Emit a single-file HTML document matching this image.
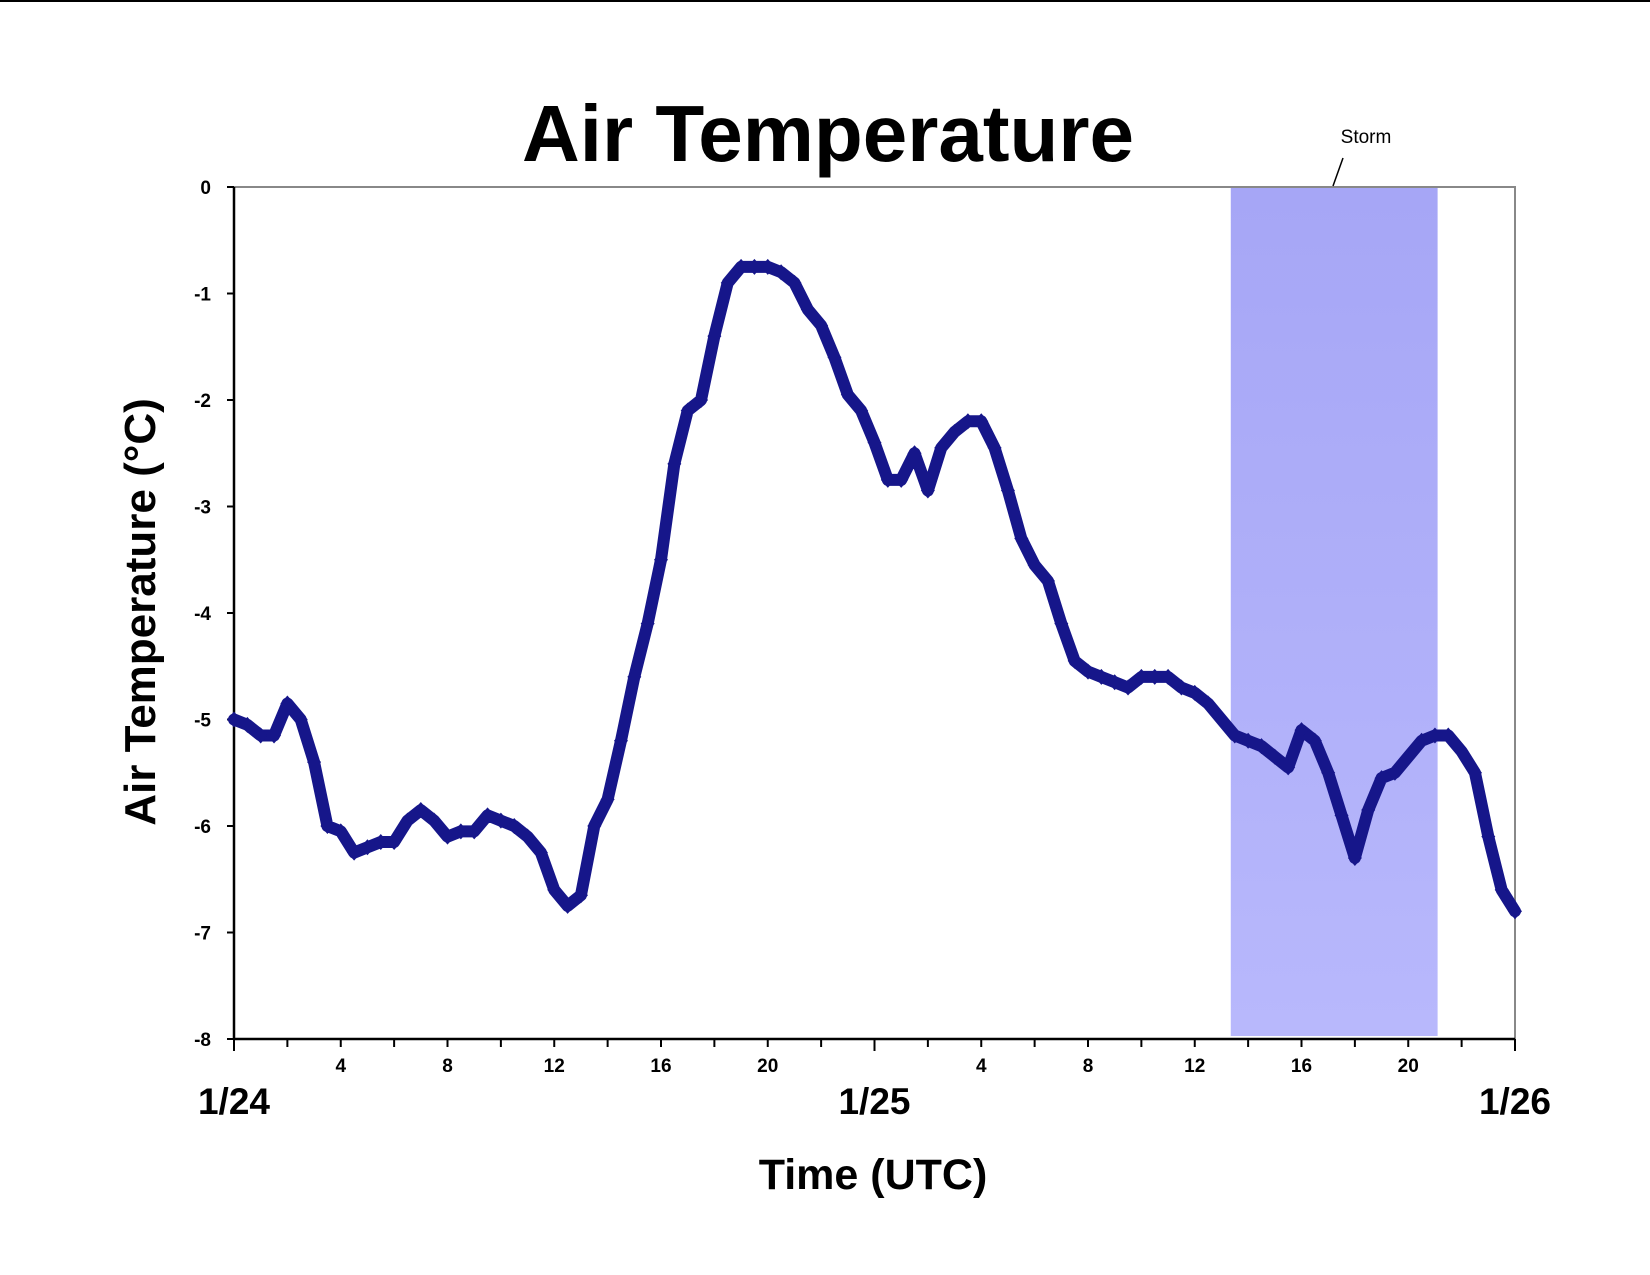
<!DOCTYPE html>
<html><head><meta charset="utf-8"><style>
body{margin:0;background:#fff;}
svg{display:block;font-family:"Liberation Sans",Arial,sans-serif;}
</style></head><body>
<svg id="chart" width="1650" height="1275" viewBox="0 0 1650 1275">
<defs><linearGradient id="storm" x1="0" y1="0" x2="0" y2="1"><stop offset="0" stop-color="#a6a6f6"/><stop offset="1" stop-color="#b8b8fc"/></linearGradient></defs>
<line x1="0" y1="1" x2="1650" y2="1" stroke="#000" stroke-width="2"/>
<text x="828" y="161" font-size="80" font-weight="bold" text-anchor="middle">Air Temperature</text>
<g id="plot"></g>
<text x="1366" y="143" font-size="19" text-anchor="middle">Storm</text>
<line x1="1343" y1="158" x2="1333" y2="186" stroke="#000" stroke-width="1.5"/>
<text transform="translate(155,612) rotate(-90)" font-size="44" font-weight="bold" text-anchor="middle">Air Temperature (°C)</text>
<text x="873" y="1189" font-size="43" font-weight="bold" text-anchor="middle">Time (UTC)</text>
</svg>
<script>
const hours = [0,0.5,1,1.5,2,2.5,3,3.5,4,4.5,5,5.5,6,6.5,7,7.5,8,8.5,9,9.5,10,10.5,11,11.5,12,12.5,13,13.5,14,14.5,15,15.5,16,16.5,17,17.5,18,18.5,19,19.5,20,20.5,21,21.5,22,22.5,23,23.5,24,24.5,25,25.5,26,26.5,27,27.5,28,28.5,29,29.5,30,30.5,31,31.5,32,32.5,33,33.5,34,34.5,35,35.5,36,36.5,37,37.5,38,38.5,39,39.5,40,40.5,41,41.5,42,42.5,43,43.5,44,44.5,45,45.5,46,46.5,47,47.5,48];
const temps = [-5.0,-5.05,-5.15,-5.15,-4.85,-5.0,-5.4,-6.0,-6.05,-6.25,-6.2,-6.15,-6.15,-5.95,-5.85,-5.95,-6.1,-6.05,-6.05,-5.9,-5.95,-6.0,-6.1,-6.25,-6.6,-6.75,-6.65,-6.0,-5.75,-5.2,-4.6,-4.1,-3.5,-2.6,-2.1,-2.0,-1.4,-0.9,-0.75,-0.75,-0.75,-0.8,-0.9,-1.15,-1.3,-1.6,-1.95,-2.1,-2.4,-2.75,-2.75,-2.5,-2.85,-2.45,-2.3,-2.2,-2.2,-2.45,-2.85,-3.3,-3.55,-3.7,-4.1,-4.45,-4.55,-4.6,-4.65,-4.7,-4.6,-4.6,-4.6,-4.7,-4.75,-4.85,-5.0,-5.15,-5.2,-5.25,-5.35,-5.45,-5.1,-5.2,-5.5,-5.9,-6.3,-5.85,-5.55,-5.5,-5.35,-5.2,-5.15,-5.15,-5.3,-5.5,-6.1,-6.6,-6.8];
const yTicks = [0,-1,-2,-3,-4,-5,-6,-7,-8];
const xTickHours = [4,8,12,16,20,28,32,36,40,44];
const xTickLabels = ["4","8","12","16","20","4","8","12","16","20"];
const dateHours = [0,24,48];
const dateLabels = ["1/24","1/25","1/26"];
const stormStart = 37.35, stormEnd = 45.1;

const L=234,R=1515,T=187,B=1039;
const x=h=>L+(h/48)*(R-L);
const y=v=>T+(-v/8)*(B-T);
const NS="http://www.w3.org/2000/svg";
const g=document.getElementById('plot');
function mk(tag,attrs){const e=document.createElementNS(NS,tag);for(const k in attrs)e.setAttribute(k,attrs[k]);g.appendChild(e);return e;}

let band=mk('rect',{x:x(stormStart),y:T,width:x(stormEnd)-x(stormStart),height:B-T-3,fill:'url(#storm)'});


let sl=mk('line',{x1:x(stormStart),y1:T,x2:x(stormEnd),y2:T,stroke:'#4848d8','stroke-width':2});



let frame=mk('path',{d:`M${L},${T}H${R}V${B}`,fill:'none',stroke:'#888','stroke-width':2});


let ya=mk('line',{x1:L,y1:T,x2:L,y2:B,stroke:'#000','stroke-width':2.5});


let xa=mk('line',{x1:L,y1:B,x2:R,y2:B,stroke:'#000','stroke-width':2.5});



yTicks.forEach(v=>{
  let t=mk('line',{x1:L-7,y1:y(v),x2:L,y2:y(v),stroke:'#000','stroke-width':2});
  
  
  let lb=mk('text',{x:211,y:y(v)+7,'font-size':19,'font-weight':'bold','text-anchor':'end'});
  lb.textContent=String(v);
  
  
});
for(let h=0;h<=48;h+=2){
  const big=(h%24===0);
  let t=mk('line',{x1:x(h),y1:B,x2:x(h),y2:B+(big?12:8),stroke:'#000','stroke-width':2});
  
  
}
xTickHours.forEach((h,i)=>{
  let lb=mk('text',{x:x(h),y:1072,'font-size':19,'font-weight':'bold','text-anchor':'middle'});
  lb.textContent=xTickLabels[i];
  
  
});
dateHours.forEach((h,i)=>{
  let lb=mk('text',{x:x(h),y:1114,'font-size':37,'font-weight':'bold','text-anchor':'middle'});
  lb.textContent=dateLabels[i];
  
  
});

let pts=hours.map((h,i)=>x(h)+','+y(temps[i])).join(' ');
let line=mk('polyline',{points:pts,fill:'none',stroke:'#16168a','stroke-width':12,'stroke-linejoin':'round','stroke-linecap':'round'});


hours.forEach((h,i)=>{
  const cx=x(h),cy=y(temps[i]);
  let d=mk('path',{d:`M${cx},${cy-8}L${cx+7},${cy}L${cx},${cy+8}L${cx-7},${cy}Z`,fill:'#16168a'});
  
  
});
</script>
</body></html>
